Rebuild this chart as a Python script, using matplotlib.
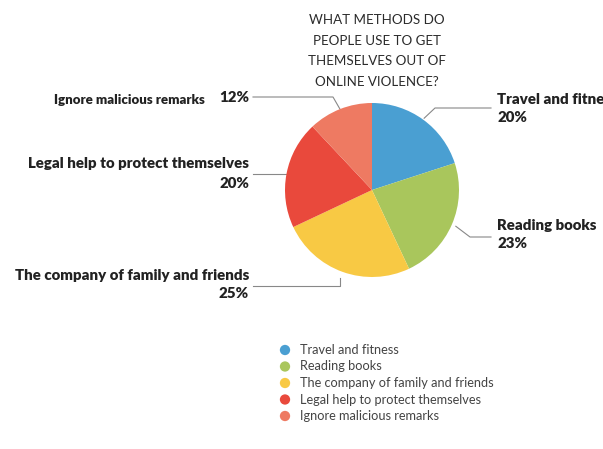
import numpy as np
import matplotlib
matplotlib.use("Agg")
import matplotlib.pyplot as plt

categories = ["Travel and fitness", "Reading books", "The company of family and friends",
              "Legal help to protect themselves", "Ignore malicious remarks"]
values = [20, 23, 25, 20, 12]
colors = ["#4a9fd2", "#a9c65c", "#f8c944", "#e9493c", "#ee7a62"]
title = "WHAT METHODS DO\nPEOPLE USE TO GET\nTHEMSELVES OUT OF\nONLINE VIOLENCE?"

W, H = 603, 449
fig = plt.figure(figsize=(W / 100, H / 100), dpi=100)

cx, cy, r = 372, 190, 87
ax = fig.add_axes([(cx - r) / W, 1 - (cy + r) / H, 2 * r / W, 2 * r / H])
wedges, _ = ax.pie(values, colors=colors, startangle=90, counterclock=False, radius=1,
                   wedgeprops=dict(linewidth=0))
ax.set_xlim(-1, 1)
ax.set_ylim(-1, 1)
ax.set_aspect("auto")
ax.axis("off")

ov = fig.add_axes([0, 0, 1, 1], zorder=-1)
ov.set_xlim(0, W)
ov.set_ylim(H, 0)
ov.axis("off")

ov.text(377, 51, title, ha="center", va="center", fontsize=9.6, family="Lato",
        color="#2b2b2b", linespacing=1.85)

def edge(i, k=1.0):
    w = wedges[i]
    a = np.deg2rad((w.theta1 + w.theta2) / 2)
    return cx + r * k * np.cos(a), cy - r * k * np.sin(a)

lc = "#888888"
lw = 0.8
fs = 10.8
kw = dict(family="Lato", weight="heavy", color="#222222", va="center")
# Travel
x0, y0 = edge(0, 1.02)
ov.plot([x0, 435, 491], [y0, 108, 108], color=lc, lw=lw)
ov.text(497, 99, "Travel and fitness", fontsize=fs, ha="left", **kw)
ov.text(497, 118, f"{values[0]}%", fontsize=fs, ha="left", **kw)
# Reading
x0, y0 = edge(1, 1.05)
ov.plot([x0, 470, 491], [y0, 237, 237], color=lc, lw=lw)
ov.text(497, 226, "Reading books", fontsize=fs, ha="left", **kw)
ov.text(497, 244, f"{values[1]}%", fontsize=fs, ha="left", **kw)
# Company
x0, y0 = edge(2, 1.08)
ov.plot([x0, x0, 253], [y0, 286, 286], color=lc, lw=lw)
ov.text(249, 275, "The company of family and friends", fontsize=fs, ha="right", **kw)
ov.text(249, 294, f"{values[2]}%", fontsize=fs, ha="right", **kw)
# Legal
x0, y0 = edge(3, 1.0)
ov.plot([x0, 253], [y0, y0], color=lc, lw=lw)
ov.text(249, 163, "Legal help to protect themselves", fontsize=fs, ha="right", **kw)
ov.text(249, 183, f"{values[3]}%", fontsize=fs, ha="right", **kw)
# Ignore
x0, y0 = edge(4, 1.0)
ov.plot([x0, 333, 253], [y0, 97, 97], color=lc, lw=lw)
ov.text(249, 98, f"{values[4]}%", fontsize=fs, ha="right", **kw)
ov.text(205, 100, "Ignore malicious remarks", fontsize=9.5, ha="right", **kw)

# legend
for i, (c, lab) in enumerate(zip(colors, categories)):
    y = 350 + i * 16.5
    ov.scatter([285], [y], s=55, color=c, edgecolors="none")
    ov.text(300, y, lab, fontsize=9.2, family="Lato", color="#444444", va="center", ha="left")

fig.savefig("out.png", dpi=100)
